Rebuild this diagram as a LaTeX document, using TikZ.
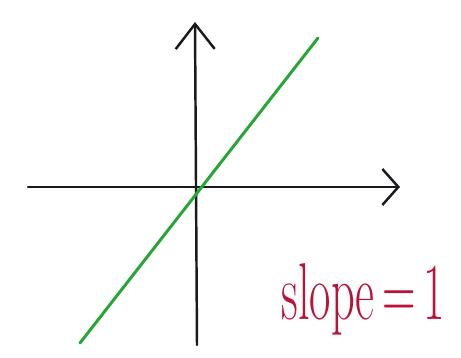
\documentclass[tikz,border=0pt]{standalone}
\usepackage{xcolor}
\usepackage{graphicx}
\usepackage{tikz}
\usetikzlibrary{positioning,arrows.meta}
\definecolor{penblack}{RGB}{25,25,30}
\definecolor{pengreen}{RGB}{40,165,55}
\definecolor{penred}{RGB}{185,20,55}

\begin{document}
\begin{tikzpicture}[x=0.02cm,y=-0.02cm,
    axis/.style={penblack,line width=1.4pt,line cap=round},
    graphline/.style={pengreen,line width=1.7pt,line cap=round}]
  % canvas 461 x 358 (pixel units)
  \useasboundingbox (0,0) rectangle (461,358);
  % axes
  \coordinate (xl) at (28,187);
  \coordinate (xr) at (400,187);
  \coordinate (yb) at (197,345);
  \coordinate (yt) at (195,22);
  \draw[axis,-{Straight Barb[length=0.32cm,width=0.72cm,line width=1.4pt]}] (xl) -- (xr);
  \draw[axis,-{Straight Barb[length=0.5cm,width=0.78cm,line width=1.4pt]}] (yb) -- (yt);
  % line with slope 1
  \coordinate (gl) at (80,343);
  \coordinate (gu) at (318,38);
  \draw[graphline] (gl) -- (gu);
  % label (stretched upwards like the handwriting)
  \node[penred,anchor=base west,font=\fontsize{27}{27}\selectfont,inner sep=0pt] (slope) at (281,320)
    {\scalebox{0.98}[1.7]{slope\,=\,1}};
\end{tikzpicture}
\end{document}
